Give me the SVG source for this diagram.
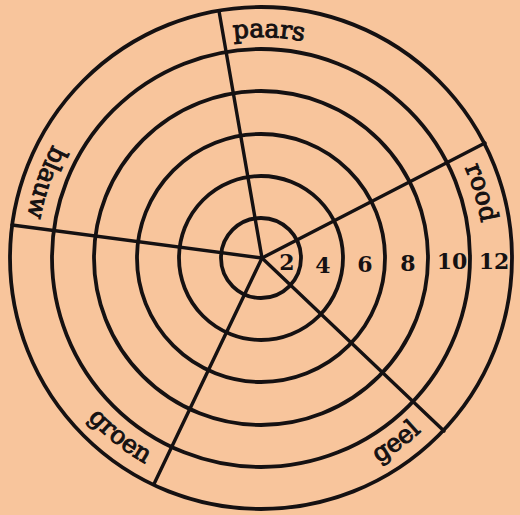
<svg xmlns="http://www.w3.org/2000/svg" width="520" height="515" viewBox="0 0 520 515">
  <style>
    .ring { fill: none; stroke: #151112; stroke-width: 3.8; }
    .spoke { stroke: #151112; stroke-width: 3.4; stroke-linecap: round; }
    .lbl { font-family: "DejaVu Serif", "Liberation Serif", serif; font-size: 25px; fill: #151112; stroke: #151112; stroke-width: 1; }
    .num { font-family: "DejaVu Serif", "Liberation Serif", serif; font-size: 22px; font-weight: bold; fill: #151112; text-anchor: middle; }
  </style>
  <defs>
    <path id="pPaars" d="M73.6,140.9 A221,221 0 0 1 456.1,154.3"/>
    <path id="pRood" d="M313.1,41.2 A223,223 0 0 1 422.8,411.5"/>
    <path id="pBlauw" d="M217.0,25.1 A237,237 0 0 0 81.3,412.5"/>
    <path id="pGroen" d="M27.5,223.9 A236,236 0 0 0 348.2,477.3"/>
    <path id="pGeel" d="M166.1,474.1 A236,236 0 0 0 495.6,232.1"/>
  </defs>
  <rect width="520" height="515" fill="#F8C59C"/>
  <g id="rings">
    <circle class="ring" cx="261" cy="258" r="40"/>
    <circle class="ring" cx="261" cy="258" r="82"/>
    <circle class="ring" cx="261" cy="258" r="124"/>
    <circle class="ring" cx="261" cy="258" r="167"/>
    <circle class="ring" cx="261" cy="258" r="209"/>
    <circle class="ring" cx="261" cy="258" r="251"/>
  </g>
  <g id="connectors">
    <line class="spoke" x1="262" y1="258" x2="219" y2="11"/>
    <line class="spoke" x1="262" y1="258" x2="485" y2="143"/>
    <line class="spoke" x1="262" y1="258" x2="12" y2="225"/>
    <line class="spoke" x1="262" y1="258" x2="154" y2="484"/>
    <line class="spoke" x1="262" y1="258" x2="444" y2="431"/>
  </g>
  <g id="label-paars"><text class="lbl"><textPath href="#pPaars" startOffset="50%" text-anchor="middle">paars</textPath></text></g>
  <g id="label-rood"><text class="lbl"><textPath href="#pRood" startOffset="50%" text-anchor="middle">rood</textPath></text></g>
  <g id="label-blauw"><text class="lbl"><textPath href="#pBlauw" startOffset="50%" text-anchor="middle">blauw</textPath></text></g>
  <g id="label-groen"><text class="lbl"><textPath href="#pGroen" startOffset="50%" text-anchor="middle">groen</textPath></text></g>
  <g id="label-geel"><text class="lbl"><textPath href="#pGeel" startOffset="50%" text-anchor="middle">geel</textPath></text></g>
  <g id="numbers">
    <text class="num" x="287" y="270">2</text>
    <text class="num" x="323" y="273">4</text>
    <text class="num" x="365" y="272">6</text>
    <text class="num" x="408" y="271">8</text>
    <text class="num" x="452" y="269">10</text>
    <text class="num" x="494" y="269">12</text>
  </g>
</svg>
